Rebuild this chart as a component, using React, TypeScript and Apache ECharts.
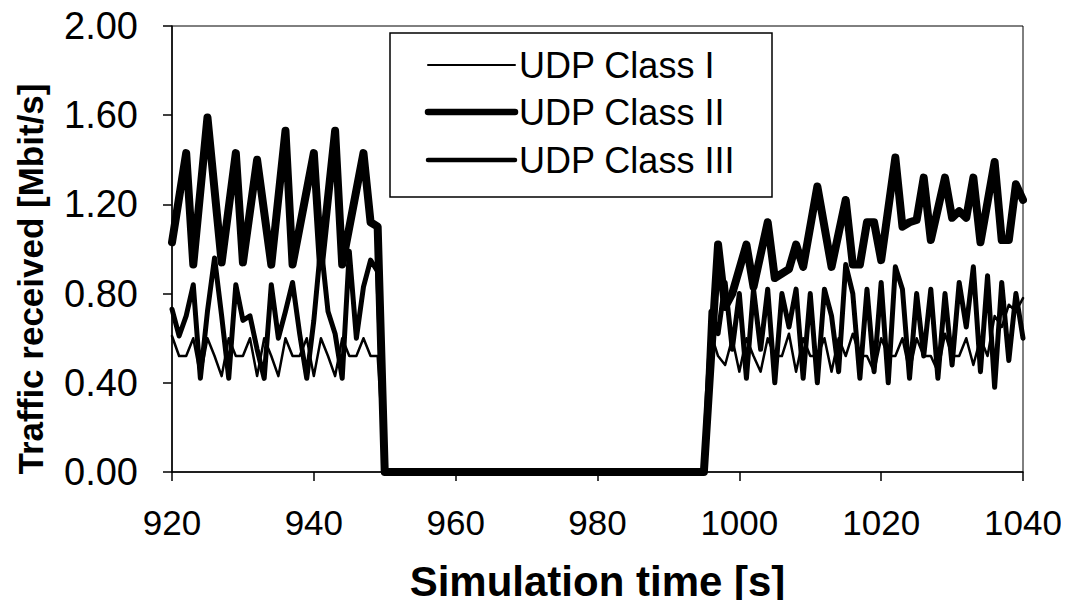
import React, { useEffect, useRef } from "react";
import * as echarts from "echarts";

const seriesNames = ["UDP Class I", "UDP Class II", "UDP Class III"];
const xTicks = [920, 940, 960, 980, 1000, 1020, 1040];
const yTicks = [0, 0.4, 0.8, 1.2, 1.6, 2.0];

const classI_time = [
  920, 921, 922, 923, 924, 925, 926, 927, 928, 929, 930, 931, 932, 933, 934, 935, 936, 937, 938, 939,
  940, 941, 942, 943, 944, 945, 946, 947, 948, 949, 950, 995, 996, 997, 998, 999, 1000, 1001, 1002,
  1003, 1004, 1005, 1006, 1007, 1008, 1009, 1010, 1011, 1012, 1013, 1014, 1015, 1016, 1017, 1018,
  1019, 1020, 1021, 1022, 1023, 1024, 1025, 1026, 1027, 1028, 1029, 1030, 1031, 1032, 1033, 1034,
  1035, 1036, 1037, 1038, 1039, 1040,
];
const classI_value = [
  0.61, 0.52, 0.52, 0.6, 0.43, 0.6, 0.52, 0.43, 0.6, 0.52, 0.52, 0.6, 0.43, 0.6, 0.52, 0.43, 0.6, 0.52, 0.52, 0.6,
  0.43, 0.6, 0.52, 0.43, 0.6, 0.52, 0.52, 0.6, 0.52, 0.52, 0, 0, 0.62, 0.52, 0.48, 0.6, 0.45, 0.6, 0.52,
  0.45, 0.6, 0.52, 0.52, 0.62, 0.45, 0.6, 0.52, 0.52, 0.6, 0.45, 0.6, 0.52, 0.62, 0.52, 0.52,
  0.45, 0.6, 0.52, 0.52, 0.6, 0.45, 0.6, 0.52, 0.52, 0.45, 0.62, 0.52, 0.52, 0.6, 0.48, 0.6,
  0.52, 0.7, 0.65, 0.75, 0.72, 0.78,
];

const classII_time = [
  920, 922, 923, 925, 927, 929, 930, 932, 934, 936, 937, 940, 941, 943, 944, 947, 948, 949, 950,
  995, 997, 998, 999, 1001, 1002, 1004, 1005, 1007, 1008, 1009, 1011, 1013, 1015, 1016, 1017, 1018,
  1019, 1020, 1022, 1023, 1024, 1025, 1026, 1027, 1029, 1030, 1031, 1032, 1033, 1034, 1036, 1037,
  1038, 1039, 1040,
];
const classII_value = [
  1.03, 1.43, 0.93, 1.59, 0.94, 1.43, 0.94, 1.4, 0.93, 1.53, 0.93, 1.43, 0.93, 1.53, 0.93, 1.43, 1.12, 1.1, 0,
  0, 1.02, 0.74, 0.8, 1.02, 0.83, 1.12, 0.87, 0.91, 1.02, 0.92, 1.28, 0.92, 1.22, 0.93, 0.93, 1.12,
  1.12, 0.95, 1.41, 1.1, 1.12, 1.13, 1.32, 1.04, 1.32, 1.14, 1.17, 1.14, 1.32, 1.03, 1.39, 1.04,
  1.04, 1.29, 1.22,
];

const classIII_time = [
  920, 921, 922, 923, 924, 925, 926, 927, 928, 929, 930, 931, 932, 933, 934, 935, 936, 937, 938, 939,
  940, 941, 942, 943, 944, 945, 946, 947, 948, 949, 950, 995, 996, 997, 998, 999, 1000, 1001, 1002,
  1003, 1004, 1005, 1006, 1007, 1008, 1009, 1010, 1011, 1012, 1013, 1014, 1015, 1016, 1017, 1018,
  1019, 1020, 1021, 1022, 1023, 1024, 1025, 1026, 1027, 1028, 1029, 1030, 1031, 1032, 1033, 1034,
  1035, 1036, 1037, 1038, 1039, 1040,
];
const classIII_value = [
  0.73, 0.61, 0.7, 0.84, 0.42, 0.72, 0.96, 0.7, 0.42, 0.84, 0.68, 0.7, 0.55, 0.42, 0.84, 0.6, 0.72, 0.85, 0.62, 0.42,
  0.68, 1.02, 0.72, 0.62, 0.42, 0.99, 0.6, 0.83, 0.95, 0.9, 0, 0, 0.72, 0.62, 0.85, 0.55, 0.8, 0.42, 0.82,
  0.55, 0.82, 0.4, 0.8, 0.65, 0.82, 0.42, 0.8, 0.4, 0.82, 0.7, 0.45, 0.93, 0.8, 0.42, 0.82,
  0.45, 0.85, 0.4, 0.92, 0.82, 0.42, 0.8, 0.52, 0.82, 0.42, 0.8, 0.48, 0.85, 0.65, 0.92, 0.45,
  0.88, 0.38, 0.85, 0.5, 0.8, 0.6,
];

const zip = (t: number[], v: number[]) => t.map((x, i) => [x, v[i]]);

const FONT = "'Liberation Sans', Arial, sans-serif";
const lineWidths = [2.5, 8, 5];
const legendWidths = [2, 6.5, 4.5];

export default function App() {
  const ref = useRef<HTMLDivElement>(null);
  useEffect(() => {
    if (!ref.current) return;
    const chart = echarts.init(ref.current, null, { renderer: "svg" });
    const datas = [
      zip(classI_time, classI_value),
      zip(classII_time, classII_value),
      zip(classIII_time, classIII_value),
    ];
    const legendRows = [65, 112, 160];
    const legendGraphics: any[] = [
      {
        type: "rect",
        shape: { x: 390, y: 33, width: 382, height: 164 },
        style: { fill: "#fff", stroke: "#000", lineWidth: 1.5 },
        z: 10,
      },
    ];
    seriesNames.forEach((name, i) => {
      legendGraphics.push({
        type: "line",
        shape: { x1: 428, y1: legendRows[i], x2: 515, y2: legendRows[i] },
        style: { stroke: "#000", lineWidth: legendWidths[i], lineCap: "round" },
        z: 11,
      });
      legendGraphics.push({
        type: "text",
        x: 519,
        y: legendRows[i],
        style: {
          text: name,
          fontSize: 36,
          fontFamily: FONT,
          fill: "#000",
          align: "left",
          verticalAlign: "middle",
        },
        z: 11,
      });
    });
    chart.setOption({
      animation: false,
      backgroundColor: "#fff",
      textStyle: { fontFamily: FONT, color: "#000" },
      grid: {
        left: 172,
        right: 46,
        top: 26,
        bottom: 136,
        show: true,
        borderColor: "#000",
        borderWidth: 1,
      },
      xAxis: {
        type: "value",
        min: 920,
        max: 1040,
        interval: 20,
        axisLine: { show: true, onZero: false, lineStyle: { color: "#000", width: 1.5 } },
        axisTick: { show: true, length: 9, lineStyle: { color: "#000", width: 1.5 } },
        axisLabel: {
          fontSize: 35,
          color: "#000",
          margin: 33,
          fontFamily: FONT,
          formatter: (v: number) => String(v),
          customValues: xTicks,
        },
        splitLine: { show: false },
        name: "Simulation time [s]",
        nameLocation: "middle",
        nameGap: 88,
        nameTextStyle: { fontSize: 42, fontWeight: "bold", color: "#000", fontFamily: FONT },
      },
      yAxis: {
        type: "value",
        min: 0,
        max: 2,
        interval: 0.4,
        axisLine: { show: true, lineStyle: { color: "#000", width: 1.5 } },
        axisTick: { show: true, length: 9, lineStyle: { color: "#000", width: 1.5 } },
        axisLabel: {
          fontSize: 38,
          color: "#000",
          margin: 34,
          fontFamily: FONT,
          formatter: (v: number) => v.toFixed(2),
          customValues: yTicks,
        },
        splitLine: { show: false },
      },
      graphic: [
        {
          type: "text",
          x: 30,
          y: 279,
          rotation: Math.PI / 2,
          style: {
            text: "Traffic received [Mbit/s]",
            fontSize: 35,
            fontWeight: "bold",
            fontFamily: FONT,
            fill: "#000",
            align: "center",
            verticalAlign: "middle",
          },
        },
        ...legendGraphics,
      ],
      series: seriesNames.map((name, i) => ({
        name,
        type: "line",
        data: datas[i],
        symbol: "none",
        showSymbol: false,
        lineStyle: { color: "#000", width: lineWidths[i], join: "round", cap: "round" },
        itemStyle: { color: "#000" },
        z: i === 1 ? 3 : 2,
      })),
    });
    return () => chart.dispose();
  }, []);
  return <div ref={ref} style={{ width: 1069, height: 608, margin: -8 }} />;
}
